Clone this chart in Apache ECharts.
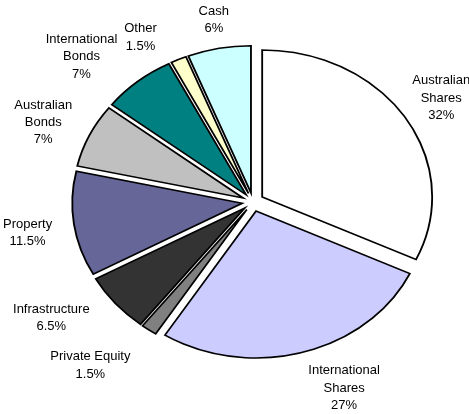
<!DOCTYPE html>
<html><head><meta charset="utf-8">
<script src="https://cdn.jsdelivr.net/npm/echarts@6/dist/echarts.min.js"></script>
<style>html,body{margin:0;padding:0;background:#fff}#c{width:469px;height:414px}</style>
</head><body><div id="c"></div>
<script>
const categories = ['Australian\nShares','International\nShares','Private Equity','Infrastructure','Property','Australian\nBonds','International\nBonds','Other','Cash'];
const values = [32, 27, 1.5, 6.5, 11.5, 7, 7, 1.5, 6];
const colors = ['#FFFFFF','#CCCCFF','#808080','#333333','#666699','#C0C0C0','#008080','#FFFFCC','#CCFFFF'];
const labelNudge = [[0,0],[27,0],[-28,12],[-25,-4],[-9,5],[-8,3],[-25,4],[-26,4],[0,0]];

const CX = 253, CY = 202, RY = 147, KX = 170/147, EXPLODE = 9.4, GAP = 11.4, LH = 17.3;
const FONT = '13px "Liberation Sans", Arial, sans-serif';
const mctx = document.createElement('canvas').getContext('2d');
mctx.font = FONT;
const total = values.reduce((a,b)=>a+b,0);

function renderItem(params, api){
  const i = params.dataIndex;
  let start = 0; for (let j=0;j<i;j++) start += values[j];
  const v = api.value(0);
  const t0 = start/total*2*Math.PI, t1 = (start+v)/total*2*Math.PI, tm = (t0+t1)/2;
  const s = Math.sin(tm), c = Math.cos(tm);
  const sector = {
    type:'sector', x: CX, y: CY, scaleX: KX, scaleY: 1,
    shape:{cx: EXPLODE*s, cy: -EXPLODE*c, r0:0, r: RY, startAngle: t0-Math.PI/2, endAngle: t1-Math.PI/2, clockwise:true},
    style:{fill: colors[i], stroke:'#000', lineWidth:1.6, strokeNoScale:true, lineJoin:'miter'}
  };
  const txt = categories[i] + '\n' + v + '%';
  const lines = txt.split('\n');
  const w = Math.max.apply(null, lines.map(l=>mctx.measureText(l).width));
  const h = lines.length*LH;
  const rA = RY + EXPLODE + GAP;
  const x = CX + rA*KX*s + w/2*s + labelNudge[i][0];
  const y = CY - rA*c - h/2*c + labelNudge[i][1];
  const text = {
    type:'text', x: x, y: y,
    style:{text: txt, fill:'#000', font: FONT, align:'center', verticalAlign:'middle', textAlign:'center', textVerticalAlign:'middle', lineHeight: LH}
  };
  return {type:'group', children:[sector, text]};
}

const chart = echarts.init(document.getElementById('c'), null, {renderer:'canvas'});
chart.setOption({
  animation:false,
  backgroundColor:'#fff',
  series:[{
    type:'custom', coordinateSystem:'none',
    data: values.map(v=>[v]),
    renderItem: renderItem
  }]
});
</script></body></html>
